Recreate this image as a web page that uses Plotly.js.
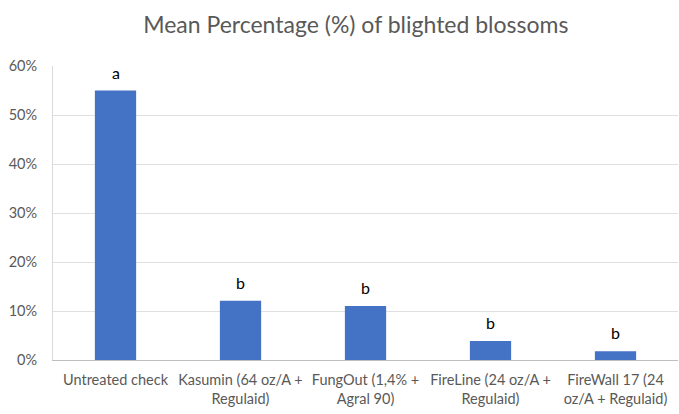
<!DOCTYPE html>
<html>
<head>
<meta charset="utf-8">
<script src="https://cdn.plot.ly/plotly-3.0.1.min.js"></script>
<style>html,body{margin:0;padding:0;background:#fff;}#chart{width:679px;height:414px;}</style>
</head>
<body>
<div id="chart"></div>
<script>
const categories = ["Untreated check", "Kasumin (64 oz/A +<br>Regulaid)", "FungOut (1,4% +<br>Agral 90)", "FireLine (24 oz/A +<br>Regulaid)", "FireWall 17 (24<br>oz/A + Regulaid)"];
const meanBlighted = [0.55, 0.121, 0.110, 0.039, 0.018];
const groupLetters = ["a", "b", "b", "b", "b"];
const yTicks = [0, 0.1, 0.2, 0.3, 0.4, 0.5, 0.6];

const font = "Lato, 'Noto Sans', sans-serif";
const trace = {
  type: "bar",
  x: categories,
  y: meanBlighted,
  marker: {color: "#4472C4"},
  hoverinfo: "none"
};
const annotations = categories.map((c, i) => ({
  x: c, y: meanBlighted[i], xref: "x", yref: "y",
  text: groupLetters[i], showarrow: false,
  yanchor: "bottom", yshift: 7,
  font: {family: font, size: 16, color: "#000"}
}));
const layout = {
  width: 679, height: 414,
  margin: {l: 53, r: 1, t: 66, b: 54},
  paper_bgcolor: "#fff", plot_bgcolor: "#fff",
  showlegend: false,
  bargap: 0.67,
  title: {text: "Mean Percentage (%) of blighted blossoms", x: 0.524, xanchor: "center", y: 0.94, yanchor: "middle",
          font: {family: font, size: 23, color: "#595959"}},
  xaxis: {
    showgrid: false, showline: true, linecolor: "#bfbfbf", linewidth: 1,
    ticks: "", ticklabelstandoff: 7,
    tickfont: {family: font, size: 14.5, color: "#595959"},
    fixedrange: true
  },
  yaxis: {
    range: [0, 0.6], tickvals: yTicks, tickformat: ".0%",
    showgrid: true, gridcolor: "#e0e0e0", gridwidth: 1,
    showline: true, linecolor: "#d9d9d9", zeroline: false,
    ticks: "", ticklabelstandoff: 12,
    tickfont: {family: font, size: 14.5, color: "#595959"},
    fixedrange: true
  },
  annotations: annotations
};
Plotly.newPlot("chart", [trace], layout, {displayModeBar: false, staticPlot: true});
</script>
</body>
</html>
